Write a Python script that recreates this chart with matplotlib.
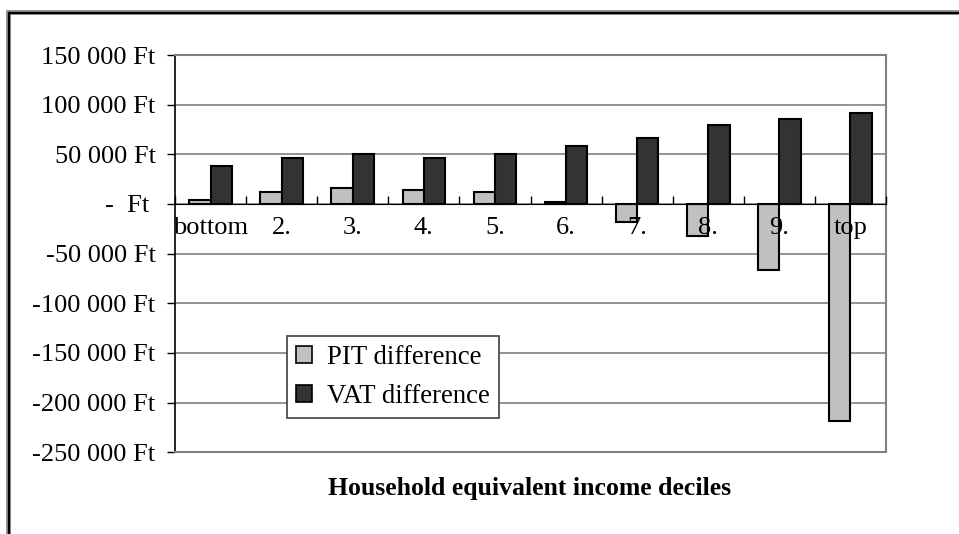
import matplotlib.pyplot as plt
import numpy as np
from matplotlib.patches import Patch, Rectangle

plt.rcParams['font.family'] = ['Liberation Serif', 'DejaVu Serif']

# decile categories and values (Ft)
deciles = ['bottom', '2.', '3.', '4.', '5.', '6.', '7.', '8.', '9.', 'top']
pit_diff = [4000, 12000, 16000, 14000, 12000, 2000, -18000, -32000, -66000, -218000]
vat_diff = [38000, 46000, 50000, 46000, 50000, 58000, 66000, 80000, 86000, 92000]
y_ticks = [150000, 100000, 50000, 0, -50000, -100000, -150000, -200000, -250000]

W, H = 959, 534
fig = plt.figure(figsize=(W / 100, H / 100), dpi=100)
ax = fig.add_axes([175 / W, 1 - 452.3 / H, 711 / W, 397.3 / H])

x = np.arange(len(deciles))
bw = 0.30
ax.bar(x - bw / 2, pit_diff, bw, color='#c0c0c0', edgecolor='black', linewidth=1.5,
       label='PIT difference', zorder=3)
ax.bar(x + bw / 2, vat_diff, bw, color='#333333', edgecolor='black', linewidth=1.5,
       label='VAT difference', zorder=3)

ymin, ymax = -250000, 150000
ax.set_ylim(ymin, ymax)
ax.set_xlim(-0.5, len(deciles) - 0.5)


def ft(v):
    if v == 0:
        return '-  Ft '
    return f'{v:,}'.replace(',', ' ') + ' Ft'


ax.set_yticks(y_ticks, labels=[ft(v) for v in y_ticks])
ax.tick_params(axis='y', length=6, width=1, direction='out', pad=8, labelsize=19)
ax.yaxis.grid(True, color='#808080', linewidth=1.2)
ax.set_axisbelow(True)
ax.set_xticks([])

for s in ['top', 'right', 'bottom']:
    ax.spines[s].set_color('#808080')
    ax.spines[s].set_linewidth(1.5)
ax.spines['left'].set_color('black')
ax.spines['left'].set_linewidth(1.2)

# category axis crossing at zero
zero_loc = (0 - ymin) / (ymax - ymin)
sec = ax.secondary_xaxis(zero_loc)
sec.spines['bottom'].set_color('black')
sec.spines['bottom'].set_linewidth(1.2)
sec.set_xticks(x, labels=[])
sec.tick_params(which='major', length=0)
sec.set_xticks(np.arange(len(deciles) + 1) - 0.5, minor=True)
sec.tick_params(which='minor', length=6, width=1, direction='out')
sec.set_zorder(4)

for i, lab in enumerate(deciles):
    ax.annotate(lab, (i, 0), xytext=(0, -17), textcoords='offset points',
                ha='center', va='center', fontsize=19, zorder=5)

handles = [Patch(facecolor='#c0c0c0', edgecolor='black', linewidth=1.2),
           Patch(facecolor='#333333', edgecolor='black', linewidth=1.2)]
leg = ax.legend(handles, ['PIT difference', 'VAT difference'], loc='upper left',
                bbox_to_anchor=((287 - 175) / 711, 1 - (336 - 55) / 397.3),
                borderaxespad=0, fancybox=False, framealpha=1, fontsize=19.3,
                handlelength=0.6, handleheight=0.6, handletextpad=0.55,
                labelspacing=0.5, borderpad=0.35)
leg.get_frame().set_edgecolor('#404040')
leg.get_frame().set_linewidth(1.2)
leg.set_zorder(6)

fig.text(530 / W, 1 - 488 / H, 'Household equivalent income deciles',
         ha='center', va='center', fontsize=18.5, fontweight='bold')

# outer chart border
fig.patches.append(Rectangle((8 / W, -0.2), 1.2, 1 - 12 / H + 0.2, transform=fig.transFigure,
                             fill=False, edgecolor='#909090', linewidth=3.5))
fig.patches.append(Rectangle((8.5 / W, -0.2), 1.2, 1 - 12.5 / H + 0.2, transform=fig.transFigure,
                             fill=False, edgecolor='black', linewidth=1.6))

fig.savefig('out.png', dpi=100)
